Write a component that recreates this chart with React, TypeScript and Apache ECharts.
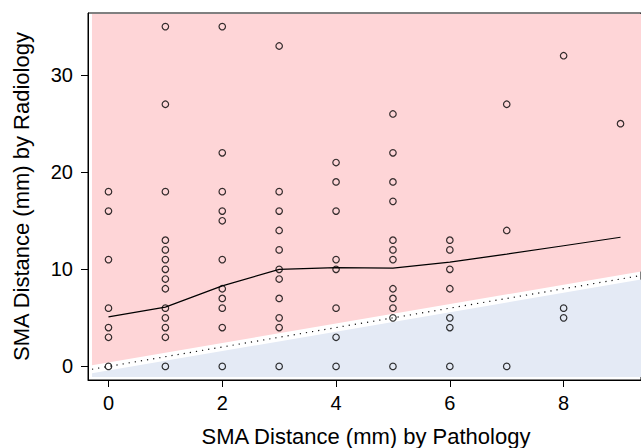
import React, { useEffect, useRef } from "react";
import * as echarts from "echarts";

// Pathology SMA distance (x) and the radiology readings observed at each value
const pathologyValues = [0, 1, 2, 3, 4, 5, 6, 7, 8, 9];
const radiologyAt0 = [18, 16, 11, 6, 4, 3, 0];
const radiologyAt1 = [35, 27, 18, 13, 12, 11, 10, 9, 8, 6, 5, 4, 3, 0];
const radiologyAt2 = [35, 22, 18, 16, 15, 11, 8, 7, 6, 4, 0];
const radiologyAt3 = [33, 18, 16, 14, 12, 10, 9, 7, 5, 4, 0];
const radiologyAt4 = [21, 19, 16, 11, 10, 6, 3, 0];
const radiologyAt5 = [26, 22, 19, 17, 13, 12, 11, 8, 7, 6, 5, 0];
const radiologyAt6 = [13, 12, 10, 8, 5, 4, 0];
const radiologyAt7 = [27, 14, 0];
const radiologyAt8 = [32, 6, 5];
const radiologyAt9 = [25];

// Smoothed trend of radiology vs pathology
const trendValues = [5.1, 6.1, 8.3, 10.0, 10.17, 10.13, 10.75, 11.57, 12.43, 13.3];

// Axis ticks
const xTicks = [0, 2, 4, 6, 8];
const yTicks = [0, 10, 20, 30];

const X_MIN = -0.36;
const X_MAX = 9.36;
const Y_MIN = -1.4;
const Y_MAX = 36.4;
const FILL_X0 = -0.29;
const FILL_Y0 = -1.1;
const BAND = 0.42;

const FONT = "'Liberation Sans', Arial, Helvetica, sans-serif";

export default function App() {
  const ref = useRef<HTMLDivElement>(null);

  useEffect(() => {
    if (!ref.current) return;
    const chart = echarts.init(ref.current, undefined, { renderer: "svg" });

    const columns = [
      radiologyAt0, radiologyAt1, radiologyAt2, radiologyAt3, radiologyAt4,
      radiologyAt5, radiologyAt6, radiologyAt7, radiologyAt8, radiologyAt9,
    ];
    const points: number[][] = [];
    columns.forEach((col, i) => {
      col.forEach((v) => points.push([pathologyValues[i], v]));
    });
    const trend = pathologyValues.map((x, i) => [x, trendValues[i]]);

    const option: any = {
      animation: false,
      grid: {
        left: 88,
        top: 13,
        width: 556,
        height: 367,
        show: true,
        borderColor: "#000",
        borderWidth: 1,
        backgroundColor: "transparent",
      },
      xAxis: {
        type: "value",
        min: X_MIN,
        max: X_MAX,
        splitLine: { show: false },
        axisLine: { show: true, onZero: false, lineStyle: { color: "#000", width: 1 } },
        axisTick: { show: true, inside: false, length: 7, customValues: xTicks, lineStyle: { color: "#000" } },
        axisLabel: { customValues: xTicks, color: "#000", fontSize: 20, fontFamily: FONT, margin: 13 },
      },
      yAxis: {
        type: "value",
        min: Y_MIN,
        max: Y_MAX,
        splitLine: { show: false },
        axisLine: { show: true, onZero: false, lineStyle: { color: "#000", width: 1 } },
        axisTick: { show: true, inside: false, length: 7, customValues: yTicks, lineStyle: { color: "#000" } },
        axisLabel: { customValues: yTicks, color: "#000", fontSize: 20, fontFamily: FONT, margin: 15 },
      },
      graphic: [
        {
          type: "text",
          x: 366,
          y: 436,
          style: {
            text: "SMA Distance (mm) by Pathology",
            font: `22px ${FONT}`,
            fill: "#000",
            textAlign: "center",
            textVerticalAlign: "middle",
          },
        },
        {
          type: "text",
          x: 21,
          y: 196.5,
          rotation: Math.PI / 2,
          style: {
            text: "SMA Distance (mm) by Radiology",
            font: `22px ${FONT}`,
            fill: "#000",
            textAlign: "center",
            textVerticalAlign: "middle",
          },
        },
      ],
      series: [
        {
          type: "custom",
          silent: true,
          z: 1,
          data: [0],
          renderItem: (params: any, api: any) => {
            const pink = [
              api.coord([FILL_X0, FILL_X0 + BAND]),
              api.coord([X_MAX, X_MAX + BAND]),
              api.coord([X_MAX, Y_MAX - 0.1]),
              api.coord([FILL_X0, Y_MAX - 0.1]),
            ];
            const blue = [
              api.coord([FILL_X0, FILL_X0 - BAND]),
              api.coord([X_MAX, X_MAX - BAND]),
              api.coord([X_MAX, FILL_Y0]),
              api.coord([FILL_X0, FILL_Y0]),
            ];
            return {
              type: "group",
              children: [
                { type: "polygon", shape: { points: pink }, style: { fill: "#FED5D7" } },
                { type: "polygon", shape: { points: blue }, style: { fill: "#E4EAF5" } },
              ],
            };
          },
        },
        {
          type: "line",
          z: 3,
          data: [[FILL_X0, FILL_X0], [X_MAX, X_MAX]],
          showSymbol: false,
          lineStyle: { color: "#111", width: 1.2, type: [1.2, 5] },
          silent: true,
        },
        {
          type: "line",
          z: 4,
          data: trend,
          showSymbol: false,
          lineStyle: { color: "#000", width: 1.2 },
          silent: true,
        },
        {
          type: "scatter",
          z: 5,
          data: points,
          symbol: "circle",
          symbolSize: 6.5,
          itemStyle: { color: "transparent", borderColor: "#000", borderWidth: 1.2 },
          silent: true,
        },
      ],
    };

    chart.setOption(option);
    return () => chart.dispose();
  }, []);

  return (
    <div
      ref={ref}
      style={{ position: "absolute", left: 0, top: 0, width: 641, height: 448 }}
    />
  );
}
